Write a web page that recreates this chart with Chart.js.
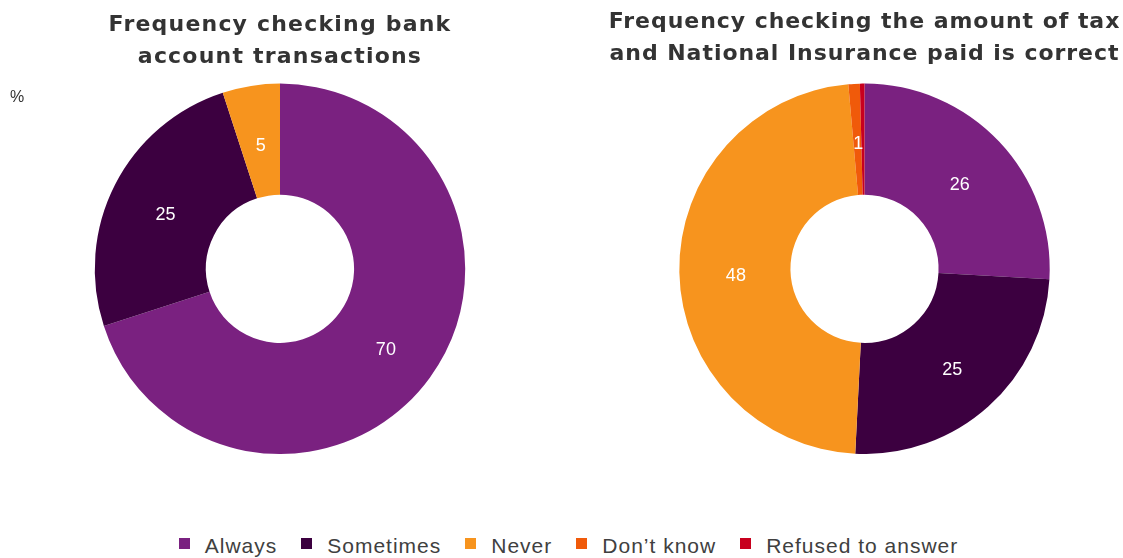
<!DOCTYPE html>
<html>
<head>
<meta charset="utf-8">
<script src="https://cdn.jsdelivr.net/npm/chart.js@4"></script>
<style>
  html, body { margin: 0; padding: 0; background: #ffffff; }
  body { width: 1123px; height: 558px; position: relative; overflow: hidden; font-family: "Liberation Sans", Arial, sans-serif; }
  #left { position: absolute; left: 0; top: 0; }
  #right { position: absolute; left: 560px; top: 0; }
  #unit { position: absolute; left: 10px; top: 88px; font-size: 16px; color: #333333; }
  #legend { position: absolute; left: 0; top: 534px; width: 1137px; display: flex; justify-content: center; font-size: 21px; color: #404040; letter-spacing: 1px; }
  #legend .item { display: flex; align-items: center; margin: 0 12px; }
  #legend .sw { width: 11px; height: 11px; margin-right: 15px; position: relative; top: -3px; }
</style>
</head>
<body>
<canvas id="left" width="560" height="454"></canvas>
<canvas id="right" width="563" height="454"></canvas>
<div id="unit">%</div>
<div id="legend"></div>
<script>
// Response categories and their colours
const categories = ["Always", "Sometimes", "Never", "Don\u2019t know", "Refused to answer"];
const colours = ["#7a2180", "#3c0040", "#f7941e", "#f05a0a", "#c8001e"];

// Percentages for each question
const bankValues = [70, 25, 5, 0, 0];
const taxValues = [26, 25, 48, 1, 0.4];

const bankTitle = ["Frequency checking bank", "account transactions"];
const taxTitle = ["Frequency checking the amount of tax", "and National Insurance paid is correct"];

// Spaced-out lettering for the titles only
function titleSpacing(px) {
  return {
    id: "titleSpacing",
    beforeDraw(chart) { chart.ctx.letterSpacing = px + "px"; },
    beforeDatasetsDraw(chart) { chart.ctx.letterSpacing = "0px"; }
  };
}

// Writes each segment's value at the middle of its arc
const sliceLabels = {
  id: "sliceLabels",
  afterDatasetsDraw(chart) {
    const ctx = chart.ctx;
    const meta = chart.getDatasetMeta(0);
    const data = chart.data.datasets[0].data;
    ctx.save();
    ctx.letterSpacing = "0px";
    ctx.fillStyle = "#ffffff";
    ctx.font = "18px 'Liberation Sans', Arial, sans-serif";
    ctx.textAlign = "center";
    ctx.textBaseline = "middle";
    meta.data.forEach((arc, i) => {
      if (data[i] < 1) return;
      const p = arc.tooltipPosition();
      ctx.fillText(String(Math.round(data[i])), p.x + 1, p.y + 5);
    });
    ctx.restore();
  }
};

function makeDoughnut(id, values, title, padLeft, titleTop, spacing) {
  return new Chart(document.getElementById(id), {
    type: "doughnut",
    data: {
      labels: categories,
      datasets: [{
        data: values,
        backgroundColor: colours,
        borderWidth: 0
      }]
    },
    options: {
      responsive: false,
      animation: false,
      cutout: "40%",
      rotation: 0,
      layout: { padding: { left: padLeft, right: 0, top: 0, bottom: 0 } },
      plugins: {
        legend: { display: false },
        tooltip: { enabled: false },
        title: {
          display: true,
          text: title,
          color: "#333333",
          font: { family: "'DejaVu Sans', sans-serif", size: 22, weight: "bold", lineHeight: 1.45 },
          padding: { top: titleTop, bottom: 83.6 - titleTop - 63.8 }
        }
      }
    },
    plugins: [titleSpacing(spacing), sliceLabels]
  });
}

makeDoughnut("left", bankValues, bankTitle, 0, 9, 1.2);
makeDoughnut("right", taxValues, taxTitle, 46, 6, 0.95);

// Shared legend under both charts
const legend = document.getElementById("legend");
categories.forEach((name, i) => {
  const item = document.createElement("div");
  item.className = "item";
  const sw = document.createElement("span");
  sw.className = "sw";
  sw.style.background = colours[i];
  const txt = document.createElement("span");
  txt.textContent = name;
  item.appendChild(sw);
  item.appendChild(txt);
  legend.appendChild(item);
});
</script>
</body>
</html>
